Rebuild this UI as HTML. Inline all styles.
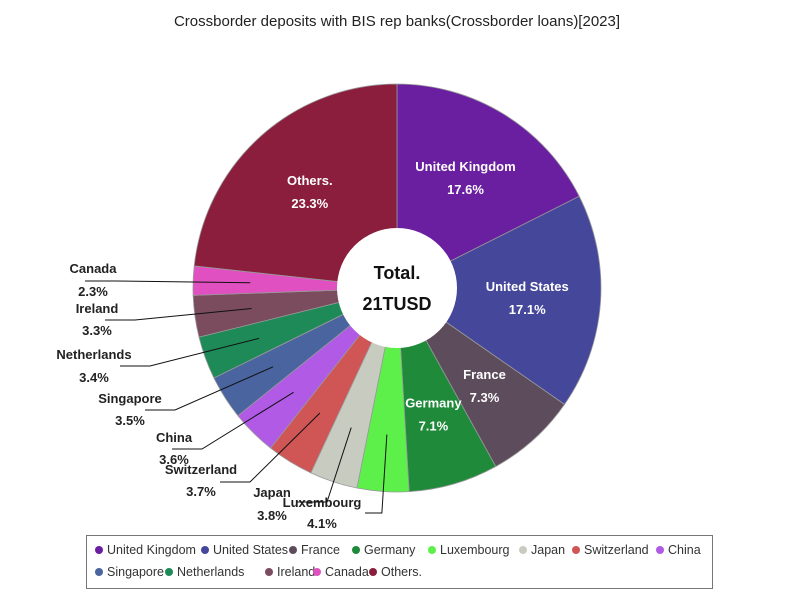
<!DOCTYPE html>
<html><head><meta charset="utf-8"><style>
body{margin:0;background:#fff;font-family:"Liberation Sans",sans-serif;}
#wrap{position:relative;width:800px;height:600px;overflow:hidden;}
.legend{position:absolute;left:86px;top:535px;width:627px;height:54px;border:1.5px solid #777;box-sizing:border-box;font-size:12.5px;color:#333;}
.li{position:absolute;white-space:nowrap;}
.li i{display:inline-block;width:8px;height:8px;border-radius:50%;margin-right:4px;vertical-align:0px;}
</style></head><body>
<div id="wrap">
<svg id="svg" width="800" height="600">
<text x="397" y="26" text-anchor="middle" font-size="15" fill="#222">Crossborder deposits with BIS rep banks(Crossborder loans)[2023]</text>
<g id="slices"></g><g id="labels"></g>
<circle cx="397" cy="288" r="60" fill="#fff"/>
<text x="397" y="279" text-anchor="middle" font-size="18" font-weight="bold" fill="#111">Total.</text>
<text x="397" y="310" text-anchor="middle" font-size="18" font-weight="bold" fill="#111">21TUSD</text>
</svg>
<div class="legend" id="legend"></div>
</div>
<script>
const categories=["United Kingdom","United States","France","Germany","Luxembourg","Japan","Switzerland","China","Singapore","Netherlands","Ireland","Canada","Others."];
const values=[17.6,17.1,7.3,7.1,4.1,3.8,3.7,3.6,3.5,3.4,3.3,2.3,23.3];
const colors=["#6a1fa0","#45479a","#5c4c5c","#1e8a3a","#5ef04a","#c8ccc0","#d05555","#b05ae6","#4a64a0","#1e8a58","#7a4c5e","#e050c0","#8a1e3c"];
const cx=397,cy=288,R=204,r0=60;
// outside label layout: [labelX, nameY, pctY, elbowX, elbowY]
const outside={"Luxembourg":[322,507,528,365,513],"Japan":[272,497,520,null,null],"Switzerland":[201,474,496,250,482],"China":[174,442,464,202,449],"Singapore":[130,403,425,175,410],"Netherlands":[94,359,382,150,366],"Ireland":[97,313,335,135,320],"Canada":[93,273,296,115,281]};
const NS="http://www.w3.org/2000/svg";
const total=values.reduce((a,b)=>a+b,0);
const sg=document.getElementById('slices'),lg=document.getElementById('labels');
function pt(a,rad){return [cx+rad*Math.sin(a),cy-rad*Math.cos(a)];}
let acc=0;
values.forEach((v,i)=>{
 const a0=acc/total*2*Math.PI;acc+=v;const a1=acc/total*2*Math.PI;
 const p0=pt(a0,R),p1=pt(a1,R),large=(a1-a0)>Math.PI?1:0;
 const p=document.createElementNS(NS,'path');
 p.setAttribute('d',`M${cx},${cy}L${p0[0]},${p0[1]}A${R},${R} 0 ${large} 1 ${p1[0]},${p1[1]}Z`);
 p.setAttribute('fill',colors[i]);p.setAttribute('stroke','#999');p.setAttribute('stroke-width','0.8');
 
 
 sg.appendChild(p);
 const am=(a0+a1)/2;const pct=v.toFixed(1)+'%';
 const o=outside[categories[i]];
 function txt(x,y,s,fill){const t=document.createElementNS(NS,'text');t.setAttribute('x',x);t.setAttribute('y',y);t.setAttribute('text-anchor','middle');t.setAttribute('font-size','13');t.setAttribute('font-weight','bold');t.setAttribute('fill',fill);t.textContent=s;
 
 
 lg.appendChild(t);}
 if(o){
  const sp=pt(am,0.72*R);
  let ex=o[3],ey=o[4];
  if(ex===null){ex=o[0]+55;ey=o[1]+5;}
  const pl=document.createElementNS(NS,'polyline');
  const endX=(categories[i]==="Luxembourg")?ex:(o[0]<ex?Math.max(o[0]+25,ex-35):ex);
  pl.setAttribute('points',categories[i]==="Luxembourg"?`${sp[0]},${sp[1]} ${sp[0]-5},${ey} ${ex},${ey}`:`${sp[0]},${sp[1]} ${ex},${ey} ${ex-30},${ey}`);
  pl.setAttribute('fill','none');pl.setAttribute('stroke','#111');pl.setAttribute('stroke-width','1');
  
  
  lg.appendChild(pl);
  txt(o[0],o[1],categories[i],'#222');txt(o[0],o[2],pct,'#222');
 }else{
  const lp=pt(am,0.64*R);
  txt(lp[0],lp[1]-6,categories[i],'#fff');txt(lp[0],lp[1]+17,pct,'#fff');
 }
});
const legend=document.getElementById('legend');
const lpos=[[8,7],[114,7],[202,7],[265,7],[341,7],[432,7],[485,7],[569,7],[8,29],[78,29],[178,29],[226,29],[282,29]];
categories.forEach((c,i)=>{
 const d=document.createElement('span');d.className='li';d.style.left=lpos[i][0]+'px';d.style.top=lpos[i][1]+'px';
 d.innerHTML=`<i style="background:${colors[i]}"></i>${c}`;
 
 
 legend.appendChild(d);
});
</script>
</body></html>
